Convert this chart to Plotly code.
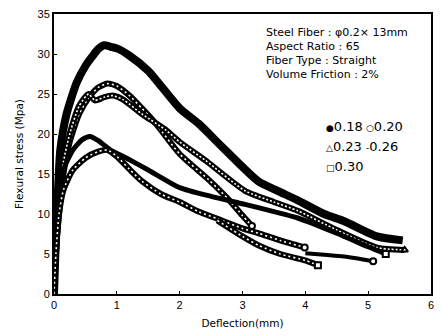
import plotly.graph_objects as go

# ---- data ----
x018 = [0, 0.03, 0.07, 0.1, 0.2, 0.36, 0.5, 0.6, 0.7, 0.8, 0.9, 1.0, 1.2, 1.5, 2.0, 2.3, 2.7, 3.25, 3.56, 3.88, 4.3, 4.62, 5.14, 5.55]
y018 = [0, 7, 14, 18, 22.5, 26.4, 28.5, 29.6, 30.6, 31.1, 30.9, 30.7, 29.8, 27.9, 23.2, 21.3, 18.2, 14.1, 12.9, 11.7, 10.0, 9.1, 7.2, 6.7]

x020 = [0, 0.03, 0.08, 0.15, 0.25, 0.4, 0.55, 0.7, 0.85, 1.0, 1.2, 1.4, 1.62, 2.0, 2.46, 2.78, 3.0, 3.15]
y020 = [0, 5, 10, 15, 19, 22.5, 24.5, 25.8, 26.3, 26.0, 24.8, 23.2, 21.3, 17.5, 14.3, 11.8, 9.8, 8.5]

x023 = [0, 0.03, 0.08, 0.15, 0.25, 0.4, 0.55, 0.65, 0.8, 0.93, 1.1, 1.4, 1.78, 2.0, 2.41, 3.04, 3.5, 3.88, 4.5, 5.14, 5.58]
y023 = [0, 6, 12, 16.5, 20, 23.5, 25.0, 24.2, 24.6, 24.8, 24.3, 22.5, 20.5, 19.0, 16.7, 12.9, 11.5, 10.4, 8.0, 5.8, 5.5]

x026 = [0, 0.03, 0.08, 0.15, 0.3, 0.45, 0.57, 0.7, 0.9, 1.15, 1.5, 2.0, 2.5, 3.04, 3.5, 3.88, 4.5, 5.0, 5.28]
y026 = [0, 6, 12, 15.5, 18, 19.3, 19.7, 19.2, 18.0, 17.0, 15.5, 13.3, 12.2, 11.2, 10.3, 9.5, 7.6, 5.9, 5.0]

x030 = [0, 0.03, 0.08, 0.15, 0.3, 0.5, 0.7, 0.85, 1.0, 1.2, 1.4, 1.7, 2.0, 2.3, 2.6, 3.0, 3.25, 3.6, 3.99]
y030 = [0, 5, 10, 13, 15.5, 17, 17.8, 18.0, 17.2, 15.6, 14.1, 12.5, 11.5, 10.3, 9.4, 8.2, 7.6, 6.7, 5.8]

# second 0.30 specimen branch and its tail
x030b = [2.6, 3.0, 3.25, 3.6, 4.0, 4.2]
y030b = [9.2, 7.2, 6.1, 5.0, 4.2, 3.6]
x030c = [4.0, 4.3, 4.7, 5.08]
y030c = [5.1, 4.9, 4.6, 4.1]

legend_symbols = [["●", "○"], ["△", "-"], ["□"]]
legend_values = [["0.18", "0.20"], ["0.23", "0.26"], ["0.30"]]
info_lines = ["Steel Fiber : φ0.2× 13mm", "Aspect Ratio : 65", "Fiber Type : Straight", "Volume Friction : 2%"]

fig = go.Figure()

def solid(x, y, w):
    fig.add_trace(go.Scatter(x=x, y=y, mode="lines", showlegend=False, hoverinfo="skip",
                             line=dict(color="black", width=w, shape="spline", smoothing=0.6)))

def dotted(x, y, w, dash):
    solid(x, y, w)
    fig.add_trace(go.Scatter(x=x, y=y, mode="lines", showlegend=False, hoverinfo="skip",
                             line=dict(color="white", width=1.6, dash=dash, shape="spline", smoothing=0.6)))

def endmark(x, y, sym):
    fig.add_trace(go.Scatter(x=[x[-1]], y=[y[-1]], mode="markers", showlegend=False, hoverinfo="skip",
                             marker=dict(symbol=sym, size=6, color="white", line=dict(color="black", width=2))))

solid(x018, y018, 8)
dotted(x020, y020, 6, "2px,3px")
dotted(x023, y023, 6, "2px,2px")
solid(x026, y026, 5)
dotted(x030, y030, 6, "2px,3px")
dotted(x030b, y030b, 6, "2px,3px")
solid(x030c, y030c, 4)

endmark(x020, y020, "circle")
endmark(x023, y023, "triangle-up")
endmark(x026, y026, "square")
endmark(x030, y030, "circle")
endmark(x030b, y030b, "square")
endmark(x030c, y030c, "circle")

font_main = "DejaVu Sans"
annotations = []
for i, t in enumerate(info_lines):
    annotations.append(dict(x=266, y=30 + 14 * i, text=t,
                            font=dict(family=font_main, size=11, color="black")))
for i, (syms, vals) in enumerate(zip(legend_symbols, legend_values)):
    for j, (s, v) in enumerate(zip(syms, vals)):
        txt = "<span style='font-size:9px'>%s</span>%s" % (s, v)
        annotations.append(dict(x=326 + 40 * j, y=125 + 20 * i, text=txt,
                                font=dict(family=font_main, size=13, color="black")))

# convert pixel placement to paper coords
L, R, T, B = 54, 8, 11, 42
W, H = 442, 336
pw, ph = W - L - R, H - T - B
for a in annotations:
    a.update(xref="paper", yref="paper", showarrow=False, xanchor="left", yanchor="middle")
    a["x"] = (a["x"] - L) / pw
    a["y"] = 1 - (a["y"] - T) / ph

fig.update_layout(
    width=W, height=H,
    margin=dict(l=L, r=R, t=T, b=B),
    paper_bgcolor="white", plot_bgcolor="white",
    font=dict(family=font_main, color="black"),
    annotations=annotations,
    xaxis=dict(range=[0, 6], tickvals=[0, 1, 2, 3, 4, 5, 6], ticks="inside", ticklen=3, tickcolor="black",
               showline=True, linecolor="black", linewidth=2, mirror=True, showgrid=False, zeroline=False,
               tickfont=dict(family="Liberation Sans", size=11, color="black"),
               title=dict(text="Deflection(mm)", font=dict(family=font_main, size=10.5), standoff=9)),
    yaxis=dict(range=[0, 35], tickvals=[0, 5, 10, 15, 20, 25, 30, 35], ticks="inside", ticklen=3, tickcolor="black",
               showline=True, linecolor="black", linewidth=2, mirror=True, showgrid=False, zeroline=False,
               tickfont=dict(family="Liberation Sans", size=11, color="black"),
               title=dict(text="Flexural stress (Mpa)", font=dict(family=font_main, size=10.5), standoff=12)),
)

fig.write_html("out.html")
